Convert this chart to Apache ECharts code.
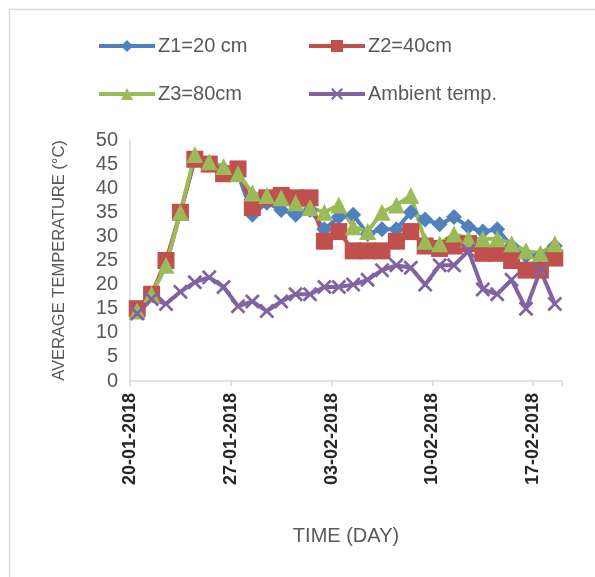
<!DOCTYPE html>
<html><head><meta charset="utf-8">
<script src="https://cdn.jsdelivr.net/npm/echarts@6/dist/echarts.min.js"></script>
<style>html,body{margin:0;padding:0;background:#fff}#c{width:595px;height:577px}</style>
</head><body><div id="c"></div>
<script>
var dates = ['20-01-2018','21-01-2018','22-01-2018','23-01-2018','24-01-2018','25-01-2018','26-01-2018','27-01-2018','28-01-2018','29-01-2018','30-01-2018','31-01-2018','01-02-2018','02-02-2018','03-02-2018','04-02-2018','05-02-2018','06-02-2018','07-02-2018','08-02-2018','09-02-2018','10-02-2018','11-02-2018','12-02-2018','13-02-2018','14-02-2018','15-02-2018','16-02-2018','17-02-2018','18-02-2018'];
var tickLabels = ['20-01-2018','27-01-2018','03-02-2018','10-02-2018','17-02-2018'];
var z1 = [14.5,18,24,35,46,45,44,43,34.5,37,35.5,34.5,35.5,31.5,34,34.5,30.5,31.5,31.5,35,33.5,32.5,34,32,31,31.5,28,26,26,28];
var z2 = [15,18,25,35,46,45,43,44,36,38,38.5,38,38,29,31,27,27,27,29,31,28,27.5,28,28.5,26.5,26.5,25,23,23,25.5];
var z3 = [14.5,18,24,35,47,45.5,44.5,43,39,38.5,38,37,36,35,36.5,32,31,35,36.5,38.5,29,28.5,30.5,29.5,29.5,29.5,28.5,27,26.5,28.5];
var amb = [14,17,16,18.5,20.5,21.5,19.5,15.5,16.5,14.5,16.5,18,18,19.5,19.5,20,21,23,24,23.5,20,24,24,27,19,18,21,15,23,16];
var names = ['Z1=20 cm','Z2=40cm','Z3=80cm','Ambient temp.'];

function pts(arr){ return arr.map(function(v,i){ return [i+0.5, v]; }); }
var xPath = 'path://M0,1.3 L1.3,0 L5,3.7 L8.7,0 L10,1.3 L6.3,5 L10,8.7 L8.7,10 L5,6.3 L1.3,10 L0,8.7 L3.7,5 Z';
var cols = ['#4F81BD','#C0504D','#9BBB59','#8064A2'];
var font = 'Liberation Sans, Arial, sans-serif';
function leg(name, left, top){
  return {data:[name], left:left, top:top, orient:'horizontal', padding:0, itemWidth:56, itemHeight:15, itemGap:0,
    lineStyle:{width:4},
    textStyle:{fontSize:20, color:'#595959', fontFamily:font, padding:[0,0,0,-2]}, selectedMode:false};
}
var chart = echarts.init(document.getElementById('c'), null, {renderer:'canvas'});
chart.setOption({
  animation:false,
  backgroundColor:'#fff',
  graphic:[{type:'rect', shape:{x:9.5,y:9.5,width:600,height:600}, style:{fill:'none', stroke:'#d9d9d9', lineWidth:1.5}}],
  legend:[leg(names[0],97,36), leg(names[1],307,36), leg(names[2],97,84), leg(names[3],307,84)],
  grid:{left:130, right:33, top:140, bottom:196},
  xAxis:{type:'value', min:0, max:30, interval:7,
    name:'TIME (DAY)', nameLocation:'middle', nameGap:145,
    nameTextStyle:{fontSize:20, color:'#595959', fontFamily:font},
    axisLine:{lineStyle:{color:'#d9d9d9', width:1.5}},
    axisTick:{show:true, length:5, lineStyle:{color:'#d9d9d9', width:1.5}},
    splitLine:{show:false},
    axisLabel:{rotate:90, margin:12, fontSize:18, fontWeight:'bold', color:'#262626', fontFamily:font,
      formatter:function(v){ var k=v/7; return (k===Math.floor(k) && tickLabels[k]) ? tickLabels[k] : ''; }}
  },
  yAxis:{type:'value', min:0, max:50, interval:5,
    name:'AVERAGE TEMPERATURE (°C)', nameLocation:'middle', nameGap:62, nameRotate:90,
    nameTextStyle:{fontSize:16.5, color:'#595959', fontFamily:font},
    axisLine:{show:true, lineStyle:{color:'#d9d9d9', width:1.5}},
    axisTick:{show:false}, splitLine:{show:false},
    axisLabel:{fontSize:20, color:'#595959', margin:12, fontFamily:font}
  },
  series:[
    {name:names[0], type:'line', data:pts(z1), symbol:'diamond', symbolSize:16, color:cols[0], lineStyle:{width:4}, itemStyle:{color:cols[0]}},
    {name:names[1], type:'line', data:pts(z2), symbol:'rect', symbolSize:17, color:cols[1], lineStyle:{width:4}, itemStyle:{color:cols[1]}},
    {name:names[2], type:'line', data:pts(z3), symbol:'triangle', symbolSize:17, color:cols[2], lineStyle:{width:4}, itemStyle:{color:cols[2]}},
    {name:names[3], type:'line', data:pts(amb), symbol:xPath, symbolSize:15, color:cols[3], lineStyle:{width:4}, itemStyle:{color:cols[3]}}
  ]
});
</script></body></html>
